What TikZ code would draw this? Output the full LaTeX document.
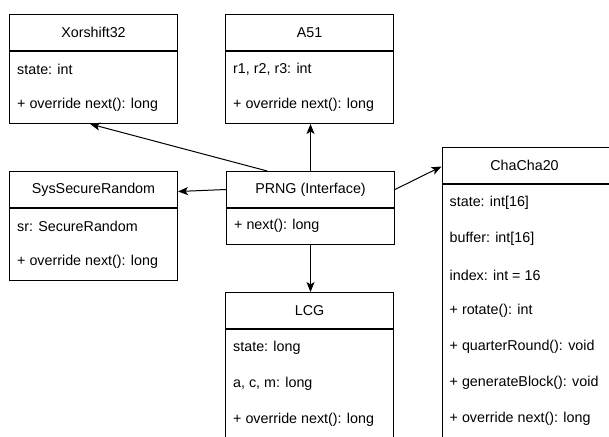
\documentclass[tikz,border=0pt]{standalone}
\usepackage{fontspec}
\setmainfont{Liberation Sans}
\usetikzlibrary{calc,arrows.meta}
\newcommand{\Cls}{\fontsize{14.3}{17}\selectfont}

\begin{document}
\begin{tikzpicture}[x=1pt,y=-1pt, font=\Cls,
    head/.style={draw, line width=1pt, anchor=north west, minimum width=168, minimum height=36, inner sep=0},
    body/.style={draw, line width=1pt, anchor=north west, minimum width=168, inner sep=0},
    row/.style={anchor=west, inner sep=0},
    arr/.style={-{Stealth[length=10pt,width=8pt,inset=2.5pt]}, line width=1pt}]
  \useasboundingbox (0,0) rectangle (609,436);
  % Xorshift32
  \node[head] (xor) at (9,14) {Xorshift32};
  \node[body, minimum height=72] (xorb) at (xor.south west) {};
  \foreach \t [count=\i] in {state: int, + override next(): long}
    \node[row] (xor-\i) at ($(xorb.north west)+(8,36*\i-18)$) {\t};
  % A51
  \node[head] (a51) at (225,14) {A51};
  \node[body, minimum height=72] (a51b) at (a51.south west) {};
  \foreach \t [count=\i] in {{r1, r2, r3: int}, + override next(): long}
    \node[row] (a51-\i) at ($(a51b.north west)+(8,36*\i-18)$) {\t};
  % SysSecureRandom
  \node[head] (sys) at (9,171) {SysSecureRandom};
  \node[body, minimum height=72] (sysb) at (sys.south west) {};
  \foreach \t [count=\i] in {sr: SecureRandom, + override next(): long}
    \node[row] (sys-\i) at ($(sysb.north west)+(8,36*\i-18)$) {\t};
  % PRNG
  \node[head] (prng) at (226,171) {PRNG (Interface)};
  \node[body, minimum height=36] (prngb) at (prng.south west) {};
  \node[row] (prng-1) at ($(prngb.north west)+(8,18)$) {+ next(): long};
  % ChaCha20 (runs off the right and bottom edge)
  \node[head, minimum width=170] (cha) at (441.5,147) {};
  \node (cha-t) at ($(cha.west)+(83,0)$) {ChaCha20};
  \node[body, minimum width=170, minimum height=260] (chab) at (cha.south west) {};
  \foreach \t [count=\i] in {state: int[16], buffer: int[16], index: int = 16, + rotate(): int,
      + quarterRound(): void, + generateBlock(): void, + override next(): long}
    \node[row] (cha-\i) at ($(chab.north west)+(8,36*\i-17)$) {\t};
  % LCG
  \node[head] (lcg) at (225,292) {LCG};
  \node[body, minimum height=112] (lcgb) at (lcg.south west) {};
  \foreach \t [count=\i] in {state: long, {a, c, m: long}, + override next(): long}
    \node[row] (lcg-\i) at ($(lcgb.north west)+(8,36*\i-17)$) {\t};
  % arrows
  \draw[arr] ($(prng.north west)!0.244!(prng.north east)$) -- ($(xorb.south west)!0.48!(xorb.south east)$);
  \draw[arr] (prng.north) -- (prng.north |- a51b.south);
  \draw[arr] (prng.west) -- ([yshift=-2pt]sys.east);
  \draw[arr] (prng.east) -- ([yshift=-1pt]cha.west);
  \draw[arr] (prngb.south) -- (prngb.south |- lcg.north);
\end{tikzpicture}
\end{document}
